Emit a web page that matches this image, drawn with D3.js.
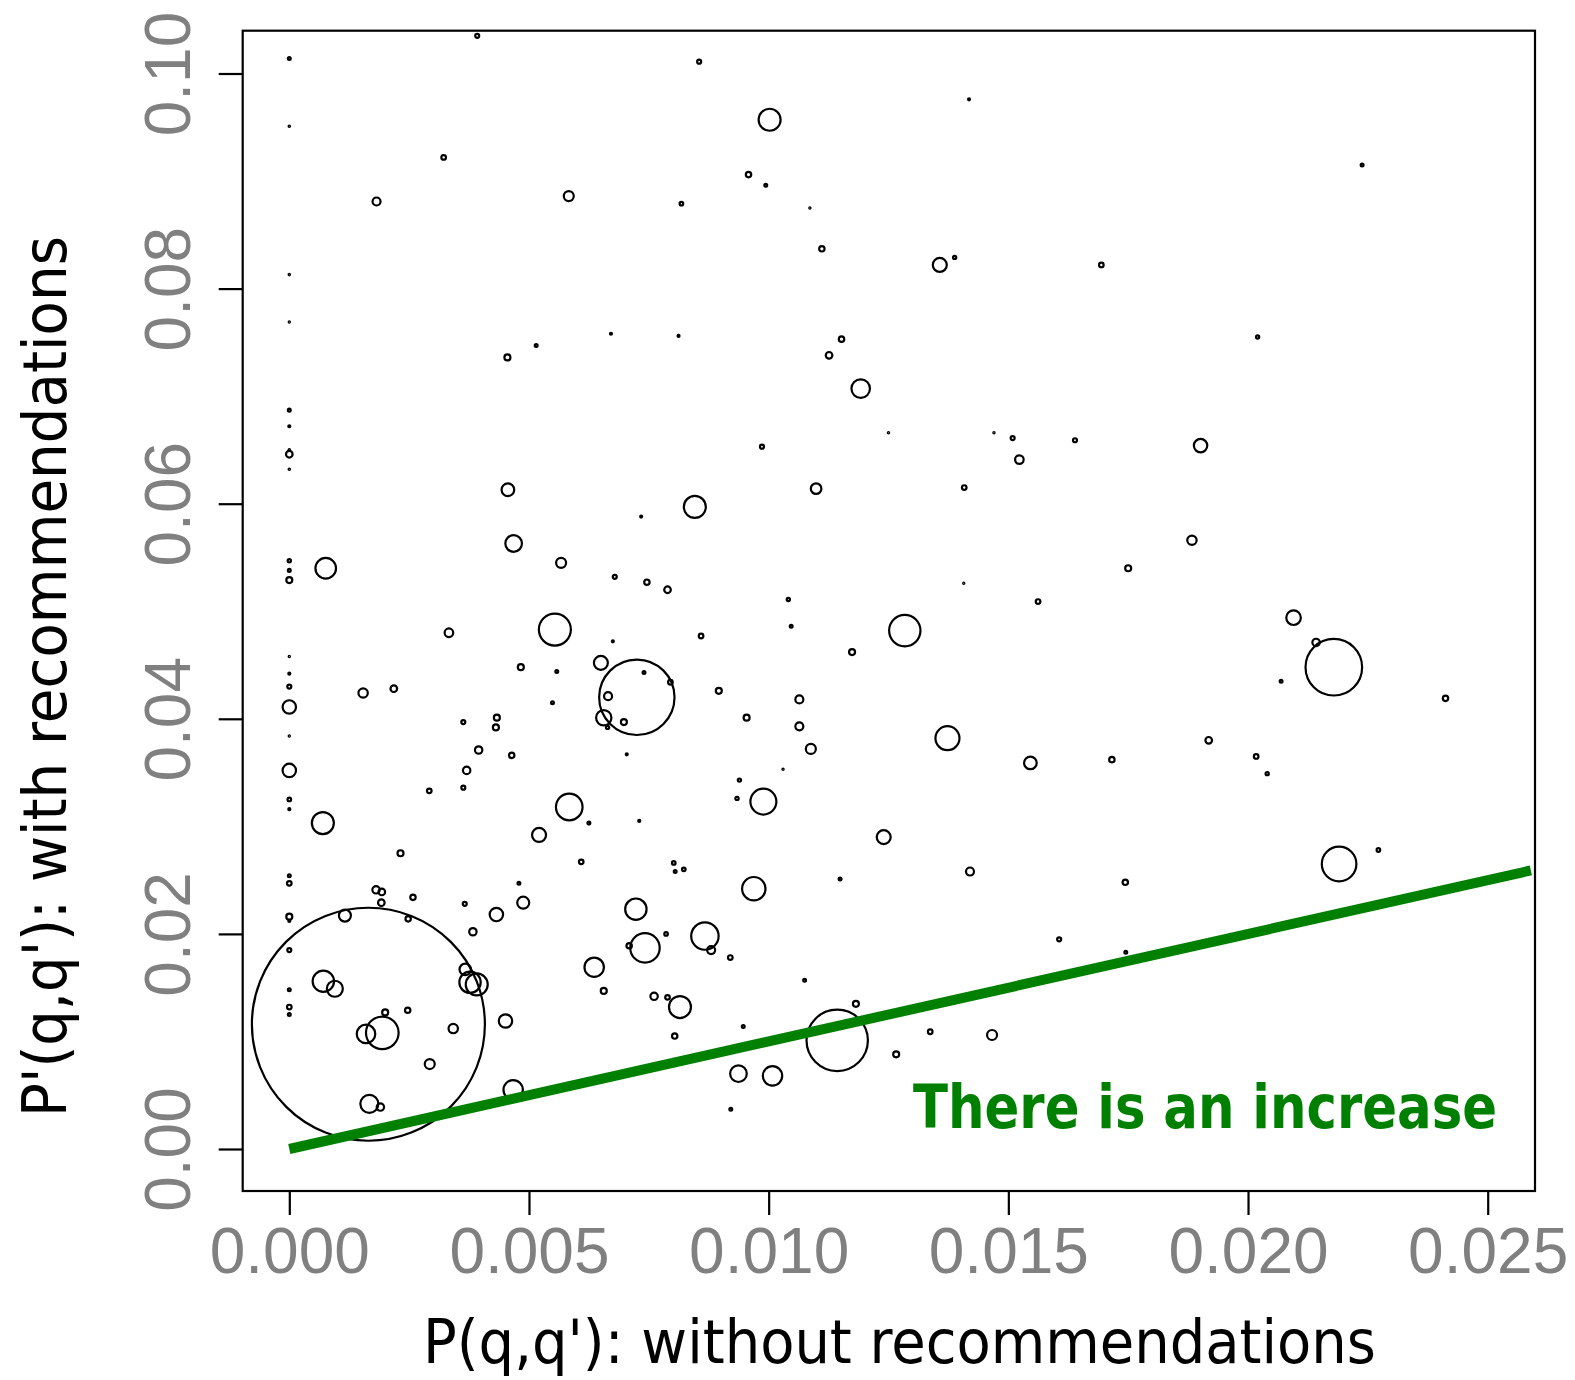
<!DOCTYPE html>
<html>
<head>
<meta charset="utf-8">
<script src="https://cdn.jsdelivr.net/npm/d3@7"></script>
<style>
  body { margin: 0; background: #fff; }
  svg { display: block; }
</style>
</head>
<body>
<script>
// P(q,q') without recommendations
var withoutRec = [
  0.00000, 0.00392, 0.00000, 0.00322, 0.00182, 0.00583, 0.00818, 0.00000, 0.00000, 0.00455,
  0.00515, 0.00671, 0.00812, 0.00000, 0.00855, 0.01002, 0.00958, 0.00994, 0.01086, 0.01111,
  0.01418, 0.01357, 0.01388, 0.01694, 0.01152, 0.01126, 0.01192, 0.02238, 0.02020, 0.00000,
  0.00000, 0.00000, 0.00000, 0.00456, 0.00468, 0.00734, 0.00567, 0.00679, 0.00746, 0.00789,
  0.00000, 0.00000, 0.00000, 0.00076, 0.00333, 0.00554, 0.00675, 0.00000, 0.00000, 0.00000,
  0.00000, 0.00000, 0.00000, 0.00000, 0.00000, 0.00154, 0.00218, 0.00483, 0.00558, 0.00650,
  0.00725, 0.00740, 0.00795, 0.00665, 0.00656, 0.00664, 0.00698, 0.00549, 0.00704, 0.00363,
  0.00433, 0.00431, 0.00395, 0.00464, 0.00370, 0.00292, 0.00363, 0.00584, 0.00070, 0.00986,
  0.01250, 0.01470, 0.01509, 0.01639, 0.01523, 0.01099, 0.01408, 0.00846, 0.01407, 0.01562,
  0.01041, 0.01047, 0.01284, 0.00859, 0.01174, 0.00896, 0.01064, 0.00954, 0.01064, 0.01088,
  0.01373, 0.01546, 0.01716, 0.01030, 0.00939, 0.00934, 0.00989, 0.01901, 0.01883, 0.01750,
  0.02095, 0.02142, 0.02179, 0.02069, 0.02412, 0.01918, 0.02017, 0.02040, 0.00232, 0.00000,
  0.00000, 0.00000, 0.00000, 0.00000, 0.00000, 0.00000, 0.00000, 0.00116, 0.00165, 0.00181,
  0.00193, 0.00192, 0.00258, 0.00248, 0.00366, 0.00432, 0.00479, 0.00488, 0.00383, 0.00071,
  0.00095, 0.00200, 0.00247, 0.00160, 0.00194, 0.00342, 0.00293, 0.00167, 0.00190, 0.00367,
  0.00377, 0.00391, 0.00451, 0.00467, 0.00625, 0.00730, 0.00521, 0.00609, 0.00802, 0.00805,
  0.00723, 0.00742, 0.00709, 0.00786, 0.00636, 0.00656, 0.00761, 0.00789, 0.00815, 0.00804,
  0.01240, 0.00823, 0.01149, 0.01420, 0.00969, 0.00867, 0.00880, 0.00920, 0.01075, 0.01606,
  0.01182, 0.01143, 0.00947, 0.01266, 0.01337, 0.01466, 0.00937, 0.01008, 0.00921, 0.01744,
  0.01745, 0.02190, 0.02272
];

// P'(q,q') with recommendations
var withRec = [
  0.1014, 0.1035, 0.0951, 0.0922, 0.0881, 0.0886, 0.0879, 0.0813, 0.0769, 0.0736,
  0.0747, 0.0758, 0.0756, 0.0687, 0.1011, 0.0957, 0.0906, 0.0896, 0.0875, 0.0837,
  0.0976, 0.0822, 0.0829, 0.0822, 0.0753, 0.0738, 0.0707, 0.0915, 0.0755, 0.0672,
  0.0646, 0.0650, 0.0632, 0.0613, 0.0563, 0.0588, 0.0545, 0.0532, 0.0527, 0.0520,
  0.0547, 0.0538, 0.0529, 0.0540, 0.0480, 0.0483, 0.0472, 0.0458, 0.0442, 0.0430,
  0.0411, 0.0384, 0.0352, 0.0325, 0.0316, 0.0424, 0.0428, 0.0448, 0.0444, 0.0452,
  0.0420, 0.0443, 0.0434, 0.0421, 0.0401, 0.0392, 0.0397, 0.0415, 0.0367, 0.0397,
  0.0401, 0.0392, 0.0371, 0.0366, 0.0352, 0.0333, 0.0336, 0.0318, 0.0303, 0.0653,
  0.0666, 0.0666, 0.0661, 0.0659, 0.0641, 0.0614, 0.0615, 0.0597, 0.0526, 0.0509,
  0.0511, 0.0486, 0.0482, 0.0477, 0.0462, 0.0426, 0.0418, 0.0401, 0.0393, 0.0372,
  0.0382, 0.0359, 0.0362, 0.0353, 0.0343, 0.0326, 0.0323, 0.0654, 0.0566, 0.0540,
  0.0494, 0.0471, 0.0448, 0.0435, 0.0419, 0.0380, 0.0365, 0.0349, 0.0275, 0.0254,
  0.0247, 0.0216, 0.0212, 0.0185, 0.0148, 0.0132, 0.0125, 0.0217, 0.0116, 0.0241,
  0.0239, 0.0229, 0.0234, 0.0214, 0.0228, 0.0218, 0.0247, 0.0229, 0.0202, 0.0156,
  0.0149, 0.0127, 0.0129, 0.0107, 0.0108, 0.0112, 0.0079, 0.0042, 0.0039, 0.0167,
  0.0155, 0.0153, 0.0119, 0.0055, 0.0303, 0.0305, 0.0292, 0.0267, 0.0266, 0.0258,
  0.0223, 0.0187, 0.0189, 0.0200, 0.0169, 0.0147, 0.0142, 0.0141, 0.0132, 0.0105,
  0.0290, 0.0260, 0.0251, 0.0258, 0.0242, 0.0198, 0.0185, 0.0178, 0.0157, 0.0195,
  0.0135, 0.0101, 0.0114, 0.0088, 0.0109, 0.0106, 0.0070, 0.0068, 0.0037, 0.0248,
  0.0183, 0.0265, 0.0278
];

// query volume (circle area)
var volume = [
  2, 4, 0.5, 5.3, 16, 25, 3.2, 0.5, 0.4, 9,
  2, 1, 1, 2, 4, 121, 7.3, 2, 0.4, 7.3,
  1, 49, 2.6, 5.3, 7.3, 10.9, 86, 2, 2.6, 1,
  10.9, 0.5, 0.5, 40, 69, 1, 25, 4, 7.3, 10.9,
  2.6, 2, 9, 106, 18.5, 256, 1, 0.4, 1, 4,
  45, 0.4, 45, 3.2, 1, 22, 10.9, 9, 2, 49,
  1421, 2, 5.3, 16, 59, 2.6, 9, 2, 1, 4,
  9, 9, 13.7, 7.3, 13.7, 5.3, 4, 177, 121, 4,
  0.4, 0.4, 4, 4, 18.5, 28, 5.3, 121, 0.4, 5.3,
  2.6, 2, 246, 5.3, 9, 9, 16, 9, 16, 25,
  144, 40, 7.3, 0.4, 2.6, 2.6, 169, 45, 22, 9,
  53, 13.7, 801, 2, 7.3, 10.9, 5.3, 2.6, 9, 2,
  5.3, 9, 1, 4, 2, 5.3, 2, 36, 13572, 13.7,
  10.9, 10.9, 7.3, 7.3, 4, 45, 2, 36, 13.7, 114,
  64, 9, 7.3, 86, 266, 22, 25, 81, 13.7, 32.5,
  114, 121, 45, 94, 2, 1, 49, 5.3, 3.2, 2,
  114, 216, 7.3, 3.2, 94, 9, 13.7, 5.3, 121, 7.3,
  49, 3.2, 2, 16, 137, 188, 16, 5.3, 2, 4,
  9, 942, 2, 9, 5.3, 25, 69, 94, 2, 7.3,
  2, 299, 3.2
];

var xTicks = [0, 0.005, 0.010, 0.015, 0.020, 0.025];
var yTicks = [0, 0.02, 0.04, 0.06, 0.08, 0.10];
var xLabel = "P(q,q'): without recommendations";
var yLabel = "P'(q,q'): with recommendations";
var note = "There is an increase";

var width = 1575, height = 1380;
var box = {left: 242.7, top: 30.7, right: 1535, bottom: 1191};
var green = "#008000";
var labelFont = "'DejaVu Sans Condensed', 'DejaVu Sans', sans-serif";
var tickFont = "'Liberation Sans', Arial, sans-serif";

var data = withoutRec.map(function (d, i) {
    return {x: d, y: withRec[i], v: volume[i]};
});

var x = d3.scaleLinear().domain([0, 0.025]).range([289.3, 1487.7]);
var y = d3.scaleLinear().domain([0, 0.1]).range([1149, 73.5]);
var r = d3.scaleSqrt().domain([0, 100]).range([0, 10]);

var svg = d3.select("body").append("svg")
    .attr("width", width)
    .attr("height", height);

svg.append("defs").append("clipPath")
    .attr("id", "plot-clip")
    .append("rect")
    .attr("x", box.left)
    .attr("y", box.top)
    .attr("width", box.right - box.left)
    .attr("height", box.bottom - box.top);

// points
svg.append("g")
    .attr("clip-path", "url(#plot-clip)")
    .selectAll("circle")
    .data(data)
    .enter().append("circle")
    .attr("cx", function (d) { return x(d.x); })
    .attr("cy", function (d) { return y(d.y); })
    .attr("r", function (d) { return r(d.v); })
    .attr("fill", "none")
    .attr("stroke", "#000")
    .attr("stroke-width", 2.2);

// y = x reference line
svg.append("line")
    .attr("clip-path", "url(#plot-clip)")
    .attr("x1", x(0)).attr("y1", y(0))
    .attr("x2", x(0.0259)).attr("y2", y(0.0259))
    .attr("stroke", green)
    .attr("stroke-width", 10);

// box
svg.append("rect")
    .attr("x", box.left)
    .attr("y", box.top)
    .attr("width", box.right - box.left)
    .attr("height", box.bottom - box.top)
    .attr("fill", "none")
    .attr("stroke", "#000")
    .attr("stroke-width", 2.2);

// x axis
var xAxis = d3.axisBottom(x)
    .tickValues(xTicks)
    .tickSize(24)
    .tickPadding(13)
    .tickFormat(d3.format(".3f"));

var gx = svg.append("g")
    .attr("transform", "translate(0," + box.bottom + ")")
    .call(xAxis);
gx.select(".domain").remove();
gx.selectAll(".tick line").attr("stroke", "#000").attr("stroke-width", 2.2);
gx.selectAll(".tick text")
    .attr("fill", "#808080")
    .attr("font-family", tickFont)
    .attr("font-size", 64);

// y axis
var yAxis = d3.axisLeft(y)
    .tickValues(yTicks)
    .tickSize(24)
    .tickFormat(d3.format(".2f"));

var gy = svg.append("g")
    .attr("transform", "translate(" + box.left + ",0)")
    .call(yAxis);
gy.select(".domain").remove();
gy.selectAll(".tick line").attr("stroke", "#000").attr("stroke-width", 2.2);
gy.selectAll(".tick text")
    .attr("fill", "#808080")
    .attr("font-family", tickFont)
    .attr("font-size", 64)
    .attr("text-anchor", "middle")
    .attr("x", 0)
    .attr("y", -53)
    .attr("dy", null)
    .attr("transform", "rotate(-90)");

// axis titles
svg.append("text")
    .attr("x", 899.5)
    .attr("y", 1363)
    .attr("text-anchor", "middle")
    .attr("font-family", labelFont)
    .attr("font-size", 60)
    .attr("textLength", 953)
    .attr("lengthAdjust", "spacingAndGlyphs")
    .attr("fill", "#000")
    .text(xLabel);

svg.append("text")
    .attr("transform", "translate(66,676.5) rotate(-90)")
    .attr("text-anchor", "middle")
    .attr("font-family", labelFont)
    .attr("font-size", 60)
    .attr("textLength", 881)
    .attr("lengthAdjust", "spacingAndGlyphs")
    .attr("fill", "#000")
    .text(yLabel);

// annotation
svg.append("text")
    .attr("x", 913)
    .attr("y", 1128)
    .attr("font-family", labelFont)
    .attr("font-weight", "bold")
    .attr("font-size", 60)
    .attr("textLength", 584)
    .attr("lengthAdjust", "spacingAndGlyphs")
    .attr("fill", green)
    .text(note);
</script>
</body>
</html>
